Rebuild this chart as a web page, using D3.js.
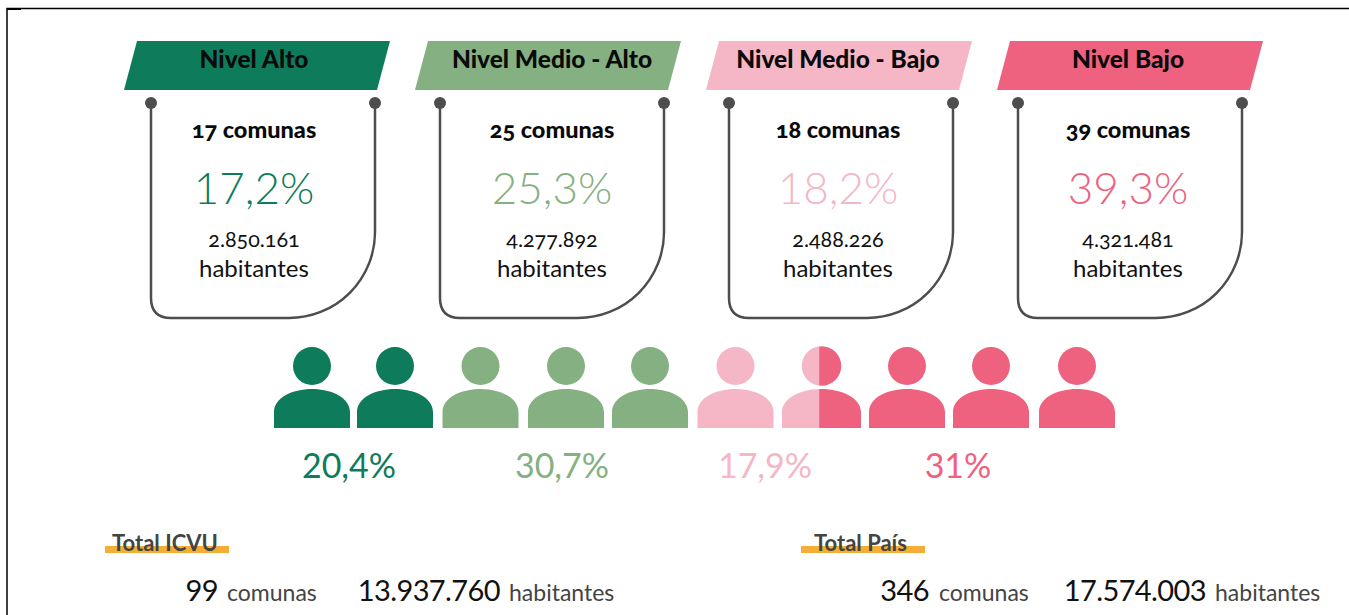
<!DOCTYPE html>
<html lang="es">
<head>
<meta charset="utf-8">
<title>ICVU niveles</title>
<script src="https://cdn.jsdelivr.net/npm/d3@7"></script>
<style>
    html, body { margin: 0; padding: 0; background: #fff; overflow: hidden; }
    svg { display: block; }
    text { font-family: Lato, "Open Sans", sans-serif; }
    .onum { font-variant-numeric: oldstyle-nums; font-feature-settings: "onum" 1; }
</style>
</head>
<body>
<div id="chart"></div>
<script>
// Data
const levels = ["Nivel Alto", "Nivel Medio - Alto", "Nivel Medio - Bajo", "Nivel Bajo"];
const comunas = ["17 comunas", "25 comunas", "18 comunas", "39 comunas"];
const comunaShare = ["17,2%", "25,3%", "18,2%", "39,3%"];
const population = ["2.850.161", "4.277.892", "2.488.226", "4.321.481"];
const peopleUnits = [2, 3, 1.47, 3.53];
const peopleShare = ["20,4%", "30,7%", "17,9%", "31%"];
const totalLabels = ["Total ICVU", "Total País"];
const totalComunas = ["99", "346"];
const totalPopulation = ["13.937.760", "17.574.003"];

const colors = ["#0e7c5a", "#85b082", "#f5b7c6", "#ee6280"];

const width = 1349, height = 615;

const svg = d3.select("#chart")
    .append("svg")
    .attr("width", width)
    .attr("height", height);

// Black frame, only top and left are visible
svg.append("path")
    .attr("d", `M7,${height}V8.5H${width}`)
    .attr("fill", "none")
    .attr("stroke", "#000")
    .attr("stroke-width", 1.5);
svg.append("rect").attr("x", 7).attr("y", 8).attr("width", 14).attr("height", 2).attr("fill", "#000");

// Scales for the header bands and the cards
const bandX = d3.scalePoint().domain(levels).range([124, 997]);
const cardX = d3.scalePoint().domain(levels).range([151, 1018]);
const textOffset = [103, 112, 109, 110];
const bandW = 253, bandSkew = 13;
const cardW = 224, cardTop = 103, cardBottom = 318, rSmall = 20, rBig = 86;

const card = svg.selectAll(".card")
    .data(levels)
    .enter()
    .append("g")
    .attr("class", "card");

card.append("path")
    .attr("d", d => {
        const x = bandX(d);
        return `M${x + bandSkew},41H${x + bandSkew + bandW}L${x + bandW},90H${x}Z`;
    })
    .attr("fill", (d, i) => colors[i]);

card.append("path")
    .attr("d", d => {
        const x = cardX(d);
        return `M${x},${cardTop}V${cardBottom - rSmall}Q${x},${cardBottom} ${x + rSmall},${cardBottom}` +
            `H${x + cardW - rBig}A${rBig},${rBig} 0 0 0 ${x + cardW},${cardBottom - rBig}V${cardTop}`;
    })
    .attr("fill", "none")
    .attr("stroke", "#4d4d4d")
    .attr("stroke-width", 2.5);

[0, cardW].forEach(dx => {
    card.append("circle")
        .attr("cx", d => cardX(d) + dx)
        .attr("cy", cardTop)
        .attr("r", 6)
        .attr("fill", "#4d4d4d");
});

const cardText = (y, size, weight, fill, values, cls) => card.append("text")
    .attr("class", cls || null)
    .attr("x", (d, i) => cardX(d) + textOffset[i])
    .attr("y", y)
    .attr("text-anchor", "middle")
    .style("font-size", size + "px")
    .style("font-weight", weight)
    .attr("fill", fill)
    .text((d, i) => values[i]);

cardText(68, 24.5, 900, "#0a0a0a", levels);
cardText(138, 23.5, 900, "#0a0a0a", comunas, "onum");
cardText(204, 44, 300, (d, i) => colors[i], comunaShare);
cardText(247, 21.5, 400, "#111", population, "onum");
cardText(277, 24, 400, "#111", levels.map(() => "habitantes"));

// People row: each icon is cut by the level it belongs to
const personX = d3.scaleLinear().domain([0, 10]).range([274, 1124]);
const personNudge = [0, -2, -1.5, -1, -2, -1.5, -2, 0, -1, 0, 0];
const cumulative = d3.cumsum(peopleUnits);
const splitPerson = Math.floor(cumulative[2]);
const personLeft = i => personX(i) + personNudge[i];
const personWidth = i => i === splitPerson ? 79 : 76;

const personPath = i => {
    const x = personLeft(i), w = personWidth(i), c = x + w / 2, r = w / 4;
    return `M${x},428V412C${x},398 ${c - 20},389 ${c},389C${c + 20},389 ${x + w},398 ${x + w},412V428Z` +
        `M${c - r},366A${r},${r} 0 1 1 ${c + r},366A${r},${r} 0 1 1 ${c - r},366Z`;
};

// x position of a cumulative unit value along the row
const unitX = u => {
    const whole = Math.floor(u);
    return u === whole ? personLeft(whole) - 4 : personLeft(whole) + personWidth(whole) * (u - whole);
};

const defs = svg.append("defs");
levels.forEach((level, i) => {
    const from = i === 0 ? 0 : cumulative[i - 1], to = cumulative[i];
    defs.append("clipPath")
        .attr("id", `level-${i}`)
        .append("rect")
        .attr("x", unitX(from))
        .attr("y", 340)
        .attr("width", unitX(to) - unitX(from))
        .attr("height", 100);
    svg.append("g")
        .attr("clip-path", `url(#level-${i})`)
        .selectAll("path")
        .data(d3.range(10))
        .enter()
        .append("path")
        .attr("d", d => personPath(d))
        .attr("fill", colors[i]);
});

const shareX = [349, 562, 765, 958];
svg.selectAll(".share")
    .data(peopleShare)
    .enter()
    .append("text")
    .attr("class", "share")
    .attr("x", (d, i) => shareX[i])
    .attr("y", 478)
    .attr("text-anchor", "middle")
    .style("font-size", "34px")
    .attr("fill", (d, i) => colors[i])
    .text(d => d);

// Totals at the bottom
const totalX = d3.scalePoint().domain(totalLabels).range([105, 801]);
const titleOffset = [7, 13];
const total = svg.selectAll(".total")
    .data(totalLabels)
    .enter()
    .append("g")
    .attr("class", "total");

total.append("rect")
    .attr("x", d => totalX(d))
    .attr("y", 546)
    .attr("width", 124)
    .attr("height", 7)
    .attr("fill", "#f5ae35");

total.append("text")
    .attr("x", (d, i) => totalX(d) + titleOffset[i])
    .attr("y", 551)
    .style("font-size", "22px")
    .style("font-weight", 700)
    .attr("fill", "#444")
    .text(d => d);

const bottomParts = [
    {x: [218, 929], anchor: "end", size: 29, spacing: -0.6, fill: "#111", values: totalComunas},
    {x: [227, 939], anchor: "start", size: 23, spacing: 0, fill: "#444", values: ["comunas", "comunas"]},
    {x: [500, 1206], anchor: "end", size: 29, spacing: -0.6, fill: "#111", values: totalPopulation},
    {x: [509, 1215], anchor: "start", size: 23, spacing: 0, fill: "#444", values: ["habitantes", "habitantes"]}
];
bottomParts.forEach(p => {
    total.append("text")
        .attr("x", (d, i) => p.x[i])
        .attr("y", 601)
        .attr("text-anchor", p.anchor)
        .style("font-size", p.size + "px")
        .style("letter-spacing", p.spacing + "px")
        .attr("fill", p.fill)
        .text((d, i) => p.values[i]);
});
</script>
</body>
</html>
